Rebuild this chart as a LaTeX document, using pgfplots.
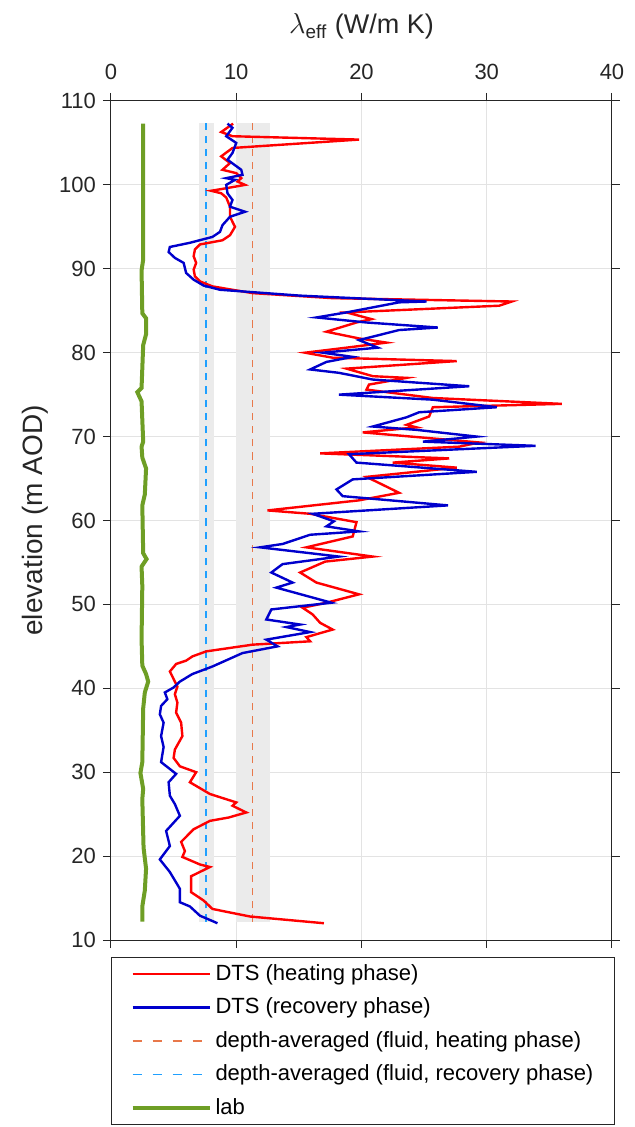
\documentclass[border=0pt]{standalone}
\usepackage{pgfplots}
\pgfplotsset{compat=1.18}
\usepackage{amsmath}
\usepackage{fontspec}
\setmainfont{Liberation Sans}
\definecolor{axgray}{HTML}{262626}
\definecolor{gridgray}{HTML}{E3E3E3}
\definecolor{bandgray}{HTML}{EBEBEB}
\definecolor{dtsred}{HTML}{FF0000}
\definecolor{dtsblue}{HTML}{0000CC}
\definecolor{dashorange}{HTML}{E8784A}
\definecolor{dashcyan}{HTML}{1FA0FF}
\definecolor{labgreen}{HTML}{6E9E25}
\begin{document}
\begin{tikzpicture}
\begin{axis}[
  name=main,
  scale only axis,
  width=250.5pt, height=419.5pt,
  xmin=0, xmax=40, ymin=10, ymax=110,
  xtick={0,10,20,30,40},
  ytick={10,20,30,40,50,60,70,80,90,100,110},
  xticklabel pos=upper,
  yticklabel pos=left,
  tick align=outside,
  major tick length=4pt,
  grid=major,
  grid style={gridgray, line width=0.5pt},
  axis line style={axgray, line width=0.5pt},
  tick style={axgray, line width=0.5pt},
  ticklabel style={font=\fontsize{11}{13}\selectfont, text=axgray},
  xticklabel style={yshift=3pt},
  /pgf/number format/assume math mode=true,
  xlabel={$\lambda_{\text{eff}}$ (W/m K)},
  ylabel={elevation (m AOD)},
  every axis x label/.style={at={(axis description cs:0.5,1.0799)}, anchor=base, font=\fontsize{13.5}{16}\selectfont, text=axgray},
  every axis y label/.style={at={(axis description cs:-0.1118,0.5)}, rotate=90, anchor=south, font=\fontsize{14}{17}\selectfont, text=axgray},
  legend style={at={(axis description cs:0,-0.0203)}, anchor=north west,
    draw=axgray, line width=0.5pt, inner xsep=9.5pt, inner ysep=3.5pt,
    nodes={inner sep=0pt}, column sep=2pt, row sep=7.25pt,
    font=\fontsize{11}{13}\selectfont, text=black},
  legend cell align=left,
  legend image code/.code={\draw[#1] (0pt,0pt) -- (38.5pt,0pt);},
]
% shaded bands
\addplot[forget plot, fill=bandgray, draw=none] coordinates {(7.0,12.2) (8.2,12.2) (8.2,107.4) (7.0,107.4)} -- cycle;
\addplot[forget plot, fill=bandgray, draw=none] coordinates {(10.0,12.2) (12.7,12.2) (12.7,107.4) (10.0,107.4)} -- cycle;
% dashed depth averages
\addplot[forget plot, dashorange, line width=0.75pt, dash pattern=on 3.6pt off 3pt] coordinates {(11.3,12.2) (11.3,107.4)};
\addplot[forget plot, dashcyan, line width=0.75pt, dash pattern=on 3.6pt off 3pt] coordinates {(7.6,12.2) (7.6,107.4)};
% lab
\addplot[forget plot, labgreen, line width=2pt] coordinates {
(2.57,107.3) (2.57,91.1) (2.44,89.8) (2.5,84.7) (2.8,84.1) (2.8,82.2) (2.57,80.9)
(2.44,75.8) (2.1,75.3) (2.44,74.2) (2.57,69.4) (2.44,68.8) (2.5,67.5) (2.8,66.2)
(2.7,63.1) (2.5,61.8) (2.57,56.1) (2.84,55.4) (2.44,54.5) (2.5,52.2) (2.44,45.9)
(2.5,42.7) (2.8,41.7) (2.97,40.8) (2.7,39.5) (2.57,37.6) (2.5,31.2) (2.35,29.9)
(2.57,28.0) (2.5,26.8) (2.6,21.0) (2.8,18.5) (2.7,15.9) (2.5,14.0) (2.5,12.2)};
% DTS heating
\addplot[dtsred, line width=1.2pt] coordinates {
(9.75,107.3) (8.8,106.3) (9.7,105.8) (19.8,105.4) (9.7,104.4) (8.8,103.4) (9.5,102.6)
(8.9,101.8) (10.0,101.4) (10.4,100.8) (10.1,100.4) (10.7,100.0) (9.2,99.6) (8.0,99.3)
(8.8,99.0) (9.2,98.5) (9.5,97.4) (9.5,96.2) (9.9,95.0) (9.5,94.0) (8.9,93.4) (7.1,92.9)
(6.7,92.3) (6.6,91.5) (6.8,90.7) (6.6,89.9) (6.7,89.1) (7.1,88.5) (8.1,87.9) (11.3,87.1)
(17.7,86.5) (32.0,86.1) (31.0,85.6) (18.8,84.8) (20.8,84.0) (19.6,83.6) (17.2,82.5)
(19.8,81.7) (22.0,81.2) (18.8,80.6) (15.5,80.0) (17.7,79.4) (27.6,79.0) (18.8,78.1)
(20.9,77.2) (23.6,77.0) (20.6,76.2) (20.4,75.6) (25.7,74.6) (36.0,73.9) (25.7,73.5)
(25.4,72.4) (23.6,71.4) (24.4,71.1) (20.1,70.5) (29.4,69.3) (27.8,68.8) (16.7,68.0)
(27.0,67.4) (22.5,66.9) (27.6,66.3) (20.4,65.2) (23.0,63.3) (19.8,62.4) (12.5,61.2)
(15.9,60.8) (19.6,59.8) (19.3,58.1) (15.6,56.8) (20.9,55.7) (17.1,55.1) (15.1,53.8)
(16.4,52.6) (19.8,51.2) (17.2,50.2) (15.3,49.6) (16.1,48.8) (16.7,47.8) (17.7,47.0)
(15.6,46.1) (15.9,45.6) (11.3,45.2) (7.6,44.4) (6.5,43.8) (6.0,43.3) (5.2,42.9)
(4.7,42.0) (5.0,41.1) (5.3,40.2) (5.1,39.3) (5.3,38.3) (5.2,37.1) (5.6,35.9) (5.7,34.3)
(5.1,32.7) (5.0,31.7) (5.5,30.7) (6.8,30.0) (6.3,28.8) (7.9,27.4) (10.0,26.4) (9.7,26.0)
(10.8,25.2) (9.4,24.6) (7.9,24.2) (6.6,23.2) (5.6,21.7) (5.9,20.6) (5.7,19.9) (7.1,19.0)
(7.9,18.7) (6.4,17.6) (6.4,15.7) (7.4,14.7) (8.1,13.7) (11.1,12.8) (17.0,12.0)};
\addlegendentry{\makebox[190pt][l]{DTS (heating phase)}}
% DTS recovery
\addplot[dtsblue, line width=1.2pt] coordinates {
(9.3,107.3) (9.7,106.8) (9.2,105.8) (10.0,105.0) (9.7,103.8) (9.3,103.0) (10.4,101.8)
(10.5,101.2) (9.2,100.8) (9.9,100.6) (9.2,100.0) (9.3,99.0) (9.7,98.2) (9.5,97.4)
(10.7,96.8) (9.5,96.2) (8.9,95.2) (8.7,94.4) (8.1,93.8) (6.3,93.1) (4.7,92.6) (4.6,92.0)
(5.1,91.3) (5.8,90.7) (6.0,89.5) (6.6,88.7) (7.4,88.0) (8.7,87.5) (15.1,86.8) (25.2,86.1)
(23.0,86.0) (18.8,84.8) (16.4,84.2) (20.4,83.6) (26.1,83.0) (23.0,82.7) (22.2,82.4)
(19.8,81.5) (21.3,80.6) (16.9,80.0) (19.3,79.5) (17.2,78.9) (15.9,78.0) (18.2,77.6)
(20.9,76.8) (28.6,76.0) (18.2,75.0) (25.7,74.4) (30.8,73.5) (24.6,72.9) (23.6,72.3)
(20.9,71.2) (24.4,70.8) (29.2,70.0) (24.9,69.4) (33.9,68.9) (19.0,67.9) (19.6,66.9)
(29.2,65.8) (19.3,64.9) (18.0,63.7) (18.5,62.9) (26.9,61.8) (16.1,60.8) (17.8,59.9)
(17.2,59.3) (19.8,58.7) (15.9,58.3) (13.7,57.2) (11.9,56.8) (18.2,55.7) (13.7,54.8)
(12.8,53.8) (14.5,52.6) (13.2,52.0) (17.6,50.2) (12.8,49.4) (12.4,48.2) (15.1,47.6)
(14.0,47.3) (15.9,46.7) (12.4,45.8) (13.3,45.0) (10.5,44.2) (8.1,42.6) (6.5,41.7)
(5.5,40.8) (5.0,40.1) (4.3,39.5) (4.5,38.7) (4.0,37.9) (3.9,36.9) (4.2,35.9) (4.0,34.3)
(4.2,33.0) (4.0,31.2) (5.2,29.8) (4.6,28.8) (4.7,27.2) (5.1,26.2) (5.5,24.8) (4.4,23.0)
(4.7,21.2) (3.9,19.6) (4.7,18.1) (5.5,16.1) (5.5,14.5) (6.3,14.0) (7.1,12.9) (8.5,12.0)};
\addlegendentry{DTS (recovery phase)}
\addlegendimage{dashorange, line width=0.75pt, dash pattern=on 4.5pt off 5.5pt}
\addlegendentry{depth-averaged (fluid, heating phase)}
\addlegendimage{dashcyan, line width=0.75pt, dash pattern=on 4.5pt off 5.5pt}
\addlegendentry{depth-averaged (fluid, recovery phase)}
\addlegendimage{labgreen, line width=2pt}
\addlegendentry{lab}
\end{axis}
\path ([shift={(-55.5pt,50.5pt)}]main.north west) rectangle ([shift={(11.5pt,-93.5pt)}]main.south east);
\end{tikzpicture}
\end{document}
